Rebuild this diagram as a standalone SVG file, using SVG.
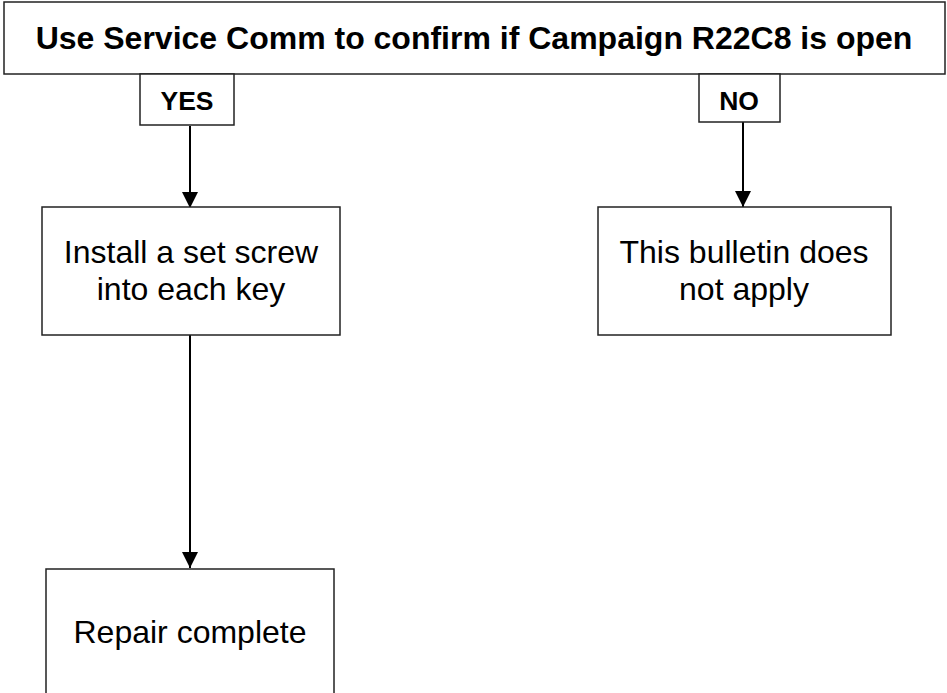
<svg xmlns="http://www.w3.org/2000/svg" width="947" height="693" viewBox="0 0 947 693">
<style>
.box{fill:#fff;stroke:#222;stroke-width:1.5}
.t{font-family:"Liberation Sans",Arial,sans-serif;fill:#000;text-anchor:middle}
.b{font-weight:bold}
.c{stroke:#000;stroke-width:2;fill:none}
</style>
<defs>
<marker id="ah" markerUnits="userSpaceOnUse" markerWidth="16" markerHeight="16" refX="16" refY="8" orient="auto" viewBox="0 0 16 16">
<path d="M0,0 L16,8 L0,16 Z" fill="#000"/>
</marker>
</defs>
<rect width="947" height="693" fill="#fff"/>
<g id="connectors">
<line class="c" x1="190" y1="126" x2="190" y2="208" marker-end="url(#ah)"/>
<line class="c" x1="743" y1="122" x2="743" y2="207" marker-end="url(#ah)"/>
<line class="c" x1="190" y1="335" x2="190" y2="568" marker-end="url(#ah)"/>
</g>
<g id="title">
<rect class="box" x="4" y="2" width="941" height="72"/>
<text class="t b" x="474" y="49" font-size="32">Use Service Comm to confirm if Campaign R22C8 is open</text>
</g>
<g id="yes">
<rect class="box" x="140" y="74" width="94" height="51"/>
<text class="t b" x="187" y="110" font-size="26.5">YES</text>
</g>
<g id="no">
<rect class="box" x="699" y="74" width="81" height="48"/>
<text class="t b" x="739" y="110" font-size="26.5">NO</text>
</g>
<g id="install">
<rect class="box" x="42" y="207" width="298" height="128"/>
<text class="t" x="191" y="263" font-size="32">Install a set screw</text>
<text class="t" x="191" y="300" font-size="32">into each key</text>
</g>
<g id="notapply">
<rect class="box" x="598" y="207" width="293" height="128"/>
<text class="t" x="744" y="263" font-size="32">This bulletin does</text>
<text class="t" x="744" y="300" font-size="32">not apply</text>
</g>
<g id="repair">
<rect class="box" x="46" y="569" width="288" height="140"/>
<text class="t" x="190" y="643" font-size="32">Repair complete</text>
</g>
</svg>
